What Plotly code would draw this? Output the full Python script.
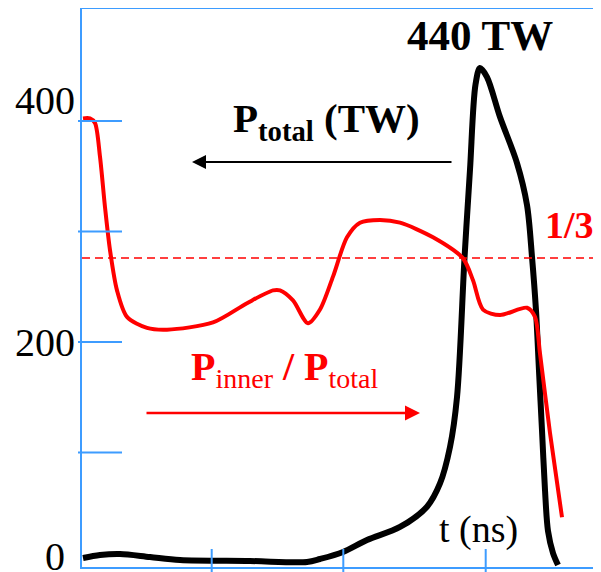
import plotly.graph_objects as go

# ---- data ----
# total power P_total (TW) vs time
t_total = [0.1, 1.8, 3.8, 6.8, 9.8, 16.8, 22.5, 23.8, 26.1, 28.5, 31.8, 34.5, 35.8,
           36.8, 37.5, 38.25, 38.8, 39.35, 39.8,
           40.5, 41.8, 43.5, 44.5, 45.0, 45.4, 45.7, 46.0, 46.3, 46.6, 47.1, 47.6]
p_total = [4.5, 7.2, 8.1, 5.4, 2.7, 1.8, 0.9, 3.6, 10.0, 20.8, 32.6, 51.0, 72.0,
           105.0, 150.0, 276.0, 356.0, 433.0, 448.0,
           439.8, 403.6, 362.0, 324.0, 277.0, 228.5, 174.0, 120.0, 66.0, 29.0, 9.0, -1.8]

# ratio P_inner / P_total vs time
t_ratio = [0.1, 0.8, 1.3, 1.8, 2.3, 2.8, 3.5, 4.5, 6.5, 8.5, 13.1, 16.5, 19.1, 19.8,
           21.1, 22.6, 23.8, 25.1, 26.5, 27.8, 29.8, 31.8, 35.1, 38.1, 39.1, 40.1,
           41.8, 44.5, 45.3, 45.8, 46.8, 48.0]
ratio = [0.486, 0.486, 0.481, 0.444, 0.389, 0.342, 0.298, 0.269, 0.257, 0.255, 0.263,
         0.284, 0.298, 0.298, 0.287, 0.262, 0.277, 0.313, 0.356, 0.372, 0.375, 0.372,
         0.356, 0.333, 0.309, 0.277, 0.271, 0.279, 0.269, 0.229, 0.142, 0.050]

ratio_ref = 1 / 3
y_ticks = [100, 200, 300, 400]
y_tick_labels = {"400": 419, "200": 200, "0": 6.3}
x_ticks = [12.97, 26.13, 40.37]

# ---- figure ----
BLUE = "#3d9cff"
RED = "#ff0000"
FONT = "Liberation Serif"

y_range = [-3.62, 501.4]
ratio_scale = 828.0
x_range = [0, 51.9]
PLOT_W = 519
PLOT_H = 558

fig = go.Figure()
fig.add_trace(go.Scatter(x=t_ratio, y=ratio, mode="lines", yaxis="y2",
                         line=dict(color=RED, width=4, shape="spline", smoothing=0.8),
                         hoverinfo="skip", showlegend=False))
fig.add_trace(go.Scatter(x=t_total, y=p_total, mode="lines",
                         line=dict(color="black", width=6, shape="spline", smoothing=0.9),
                         hoverinfo="skip", showlegend=False))

fig.update_layout(
    width=593, height=564,
    margin=dict(l=74, r=0, t=1, b=5),
    paper_bgcolor="white", plot_bgcolor="white",
    font=dict(family=FONT, color="black"),
    xaxis=dict(range=x_range, showgrid=False, zeroline=False, showticklabels=False,
               ticks="", showline=True, linecolor=BLUE, linewidth=2, mirror=True),
    yaxis=dict(range=y_range, showgrid=False, zeroline=False, showticklabels=False,
               ticks="", showline=True, linecolor=BLUE, linewidth=2),
    yaxis2=dict(range=[y_range[0] / ratio_scale, y_range[1] / ratio_scale],
                overlaying="y", visible=False),
)

# tick marks crossing the axes
for v in y_ticks:
    fig.add_shape(type="line", xref="paper", yref="y", x0=-4 / PLOT_W, x1=40 / PLOT_W,
                  y0=v, y1=v, line=dict(color=BLUE, width=2))
for v in x_ticks:
    fig.add_shape(type="line", xref="x", yref="paper", x0=v, x1=v,
                  y0=-5 / PLOT_H, y1=18 / PLOT_H, line=dict(color=BLUE, width=2))

# 1/3 reference line
fig.add_shape(type="line", xref="paper", yref="y2", x0=0, x1=1, y0=ratio_ref, y1=ratio_ref,
              line=dict(color=RED, width=1.5, dash="8px,5px"))

# y tick labels
fig.add_annotation(text="400", xref="paper", yref="y", x=-5 / PLOT_W, y=y_tick_labels["400"],
                   xanchor="right", yanchor="middle", showarrow=False,
                   font=dict(size=40, family=FONT))
fig.add_annotation(text="200", xref="paper", yref="y", x=-5 / PLOT_W, y=y_tick_labels["200"],
                   xanchor="right", yanchor="middle", showarrow=False,
                   font=dict(size=40, family=FONT))
fig.add_annotation(text="0", xref="paper", yref="y", x=-15 / PLOT_W, y=y_tick_labels["0"],
                   xanchor="right", yanchor="middle", showarrow=False,
                   font=dict(size=40, family=FONT))

# texts
fig.add_annotation(text="<b>440 TW</b>", x=39.8, y=477, showarrow=False,
                   font=dict(size=43, family=FONT, color="black"))
fig.add_annotation(text="<b>P<sub>total</sub> (TW)</b>", x=24.4, y=400, showarrow=False,
                   font=dict(size=41, family=FONT, color="black"))
fig.add_annotation(text="<b>1/3</b>", x=48.7, y=306, showarrow=False,
                   font=dict(size=38, family=FONT, color=RED))
fig.add_annotation(text="<b>P</b><sub>inner</sub><b> / P</b><sub>total</sub>", x=20.3, y=176,
                   showarrow=False, font=dict(size=40, family=FONT, color=RED))
fig.add_annotation(text="t (ns)", x=39.6, y=30, showarrow=False,
                   font=dict(size=38, family=FONT, color="black"))

# arrows
fig.add_annotation(text="", x=11.0, y=362.9, ax=37.1, ay=362.9, xref="x", yref="y",
                   axref="x", ayref="y", showarrow=True, arrowhead=2, arrowsize=1.4,
                   arrowwidth=2, arrowcolor="black", standoff=0)
fig.add_annotation(text="", x=33.8, y=135.7, ax=6.3, ay=135.7, xref="x", yref="y",
                   axref="x", ayref="y", showarrow=True, arrowhead=2, arrowsize=1.2,
                   arrowwidth=2.5, arrowcolor=RED, standoff=0)

fig.write_html("out.html")
